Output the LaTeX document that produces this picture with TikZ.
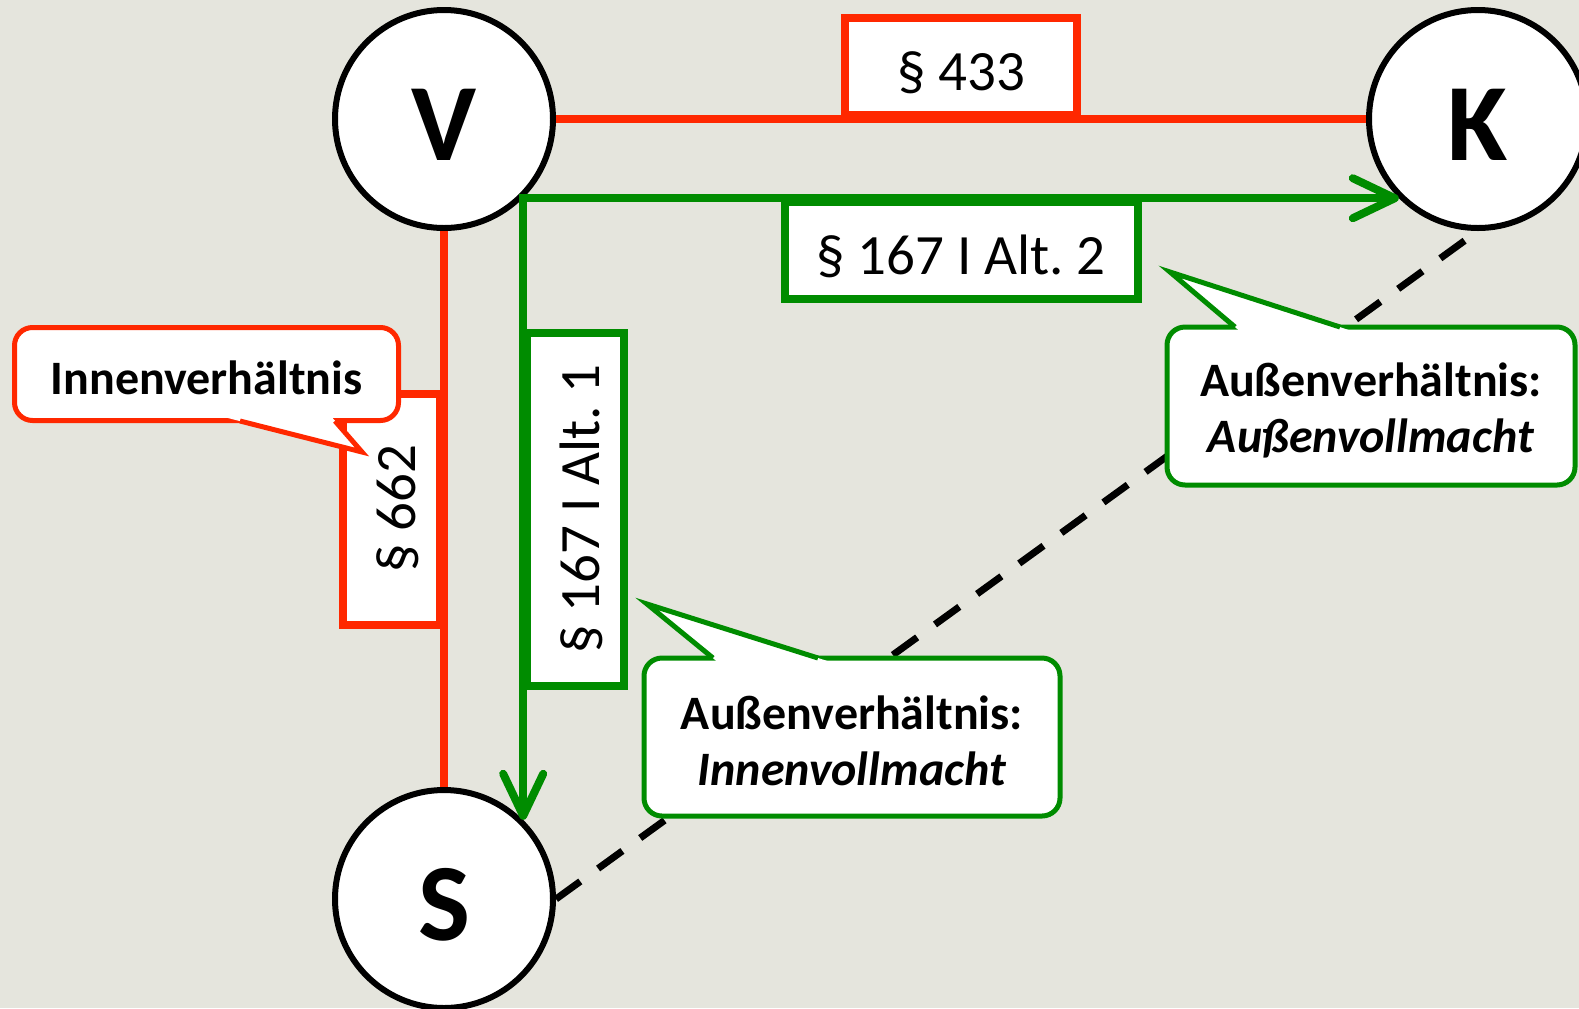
\documentclass[tikz,border=0pt]{standalone}
\usepackage{fontspec}
\setmainfont{Carlito}
\frenchspacing
\usetikzlibrary{arrows.meta}
\definecolor{bgcol}{RGB}{229,229,221}
\definecolor{vred}{RGB}{255,40,0}
\definecolor{vgreen}{RGB}{0,140,0}
\begin{document}
\begin{tikzpicture}[x=0.5pt,y=-0.5pt,
  party/.style={circle,draw=black,fill=white,line width=3pt,minimum size=109pt,inner sep=0pt,text height=47pt,text depth=5.5pt,font=\fontsize{55}{60}\selectfont\bfseries},
  redline/.style={draw=vred,line width=4pt},
  greenline/.style={draw=vgreen,line width=4pt,{Straight Barb[length=21pt,width=20pt,round]}-{Straight Barb[length=21pt,width=20pt,round]}},
  redbox/.style={draw=vred,fill=white,line width=4pt,minimum height=48.5pt,inner sep=0pt,text height=27pt,text depth=2.8pt,font=\fontsize{28.5}{32}\selectfont},
  greenbox/.style={redbox,draw=vgreen},
  redcallout/.style={draw=vred,fill=white,line width=2.5pt,rounded corners=9pt,align=center,font=\fontsize{24}{28}\selectfont\bfseries},
  greencallout/.style={redcallout,draw=vgreen},
  tail/.style={line width=2.5pt,line join=miter}]
\useasboundingbox (0,0) rectangle (1579,1008);
\fill[bgcol] (0,0) rectangle (1579,1008);

% parties
\node[party] (V) at (444,119) {V};
\node[party] (K) at (1478,119) {K};
\node[party] (S) at (444,899) {S};

\draw[line width=3.5pt,dash pattern=on 15pt off 11pt] (S.east) -- (K.south);

% red: Kaufvertrag / Auftrag
\draw[redline] (V.east) -- node[redbox,anchor=south,minimum width=116pt] (p433) {§ 433} (K.west);
\draw[redline] (V.south) -- node[redbox,rotate=90,anchor=south,minimum width=115.5pt] (p662) {§ 662} (S.north);

% green: Vollmacht
\draw[greenline] (S.45) -- node[greenbox,rotate=90,anchor=north,minimum width=176.5pt] (p167a) {§ 167 I Alt. 1}
  (V.-45) -- node[greenbox,anchor=north,minimum width=176.5pt] (p167b) {§ 167 I Alt. 2} (K.-135);

% callouts
\node[redcallout,minimum width=192pt,minimum height=46.5pt] (innen) at (206.5,374) {\rule{0pt}{0.87em}Innenverhältnis};
\fill[white] (216,415) -- (362,452) -- (330,415) -- cycle;
\draw[tail,vred] (240,421) -- (362,452) -- (335,421);

\node[greencallout,minimum width=204pt,minimum height=79pt] (aussenK) at (1371,406) {\rule{0pt}{0.87em}Außenverhältnis:\\\textit{Außenvollmacht}};
\fill[white] (1242,333) -- (1170,272) -- (1358,333) -- cycle;
\draw[tail,vgreen] (1235,327) -- (1170,272) -- (1340,327);

\node[greencallout,minimum width=208pt,minimum height=79pt] (aussenS) at (852,737) {\rule{0pt}{0.87em}Außenverhältnis:\\\textit{Innenvollmacht}};
\fill[white] (720,664) -- (647,604) -- (837,664) -- cycle;
\draw[tail,vgreen] (713,658) -- (647,604) -- (818,658);
\end{tikzpicture}
\end{document}
